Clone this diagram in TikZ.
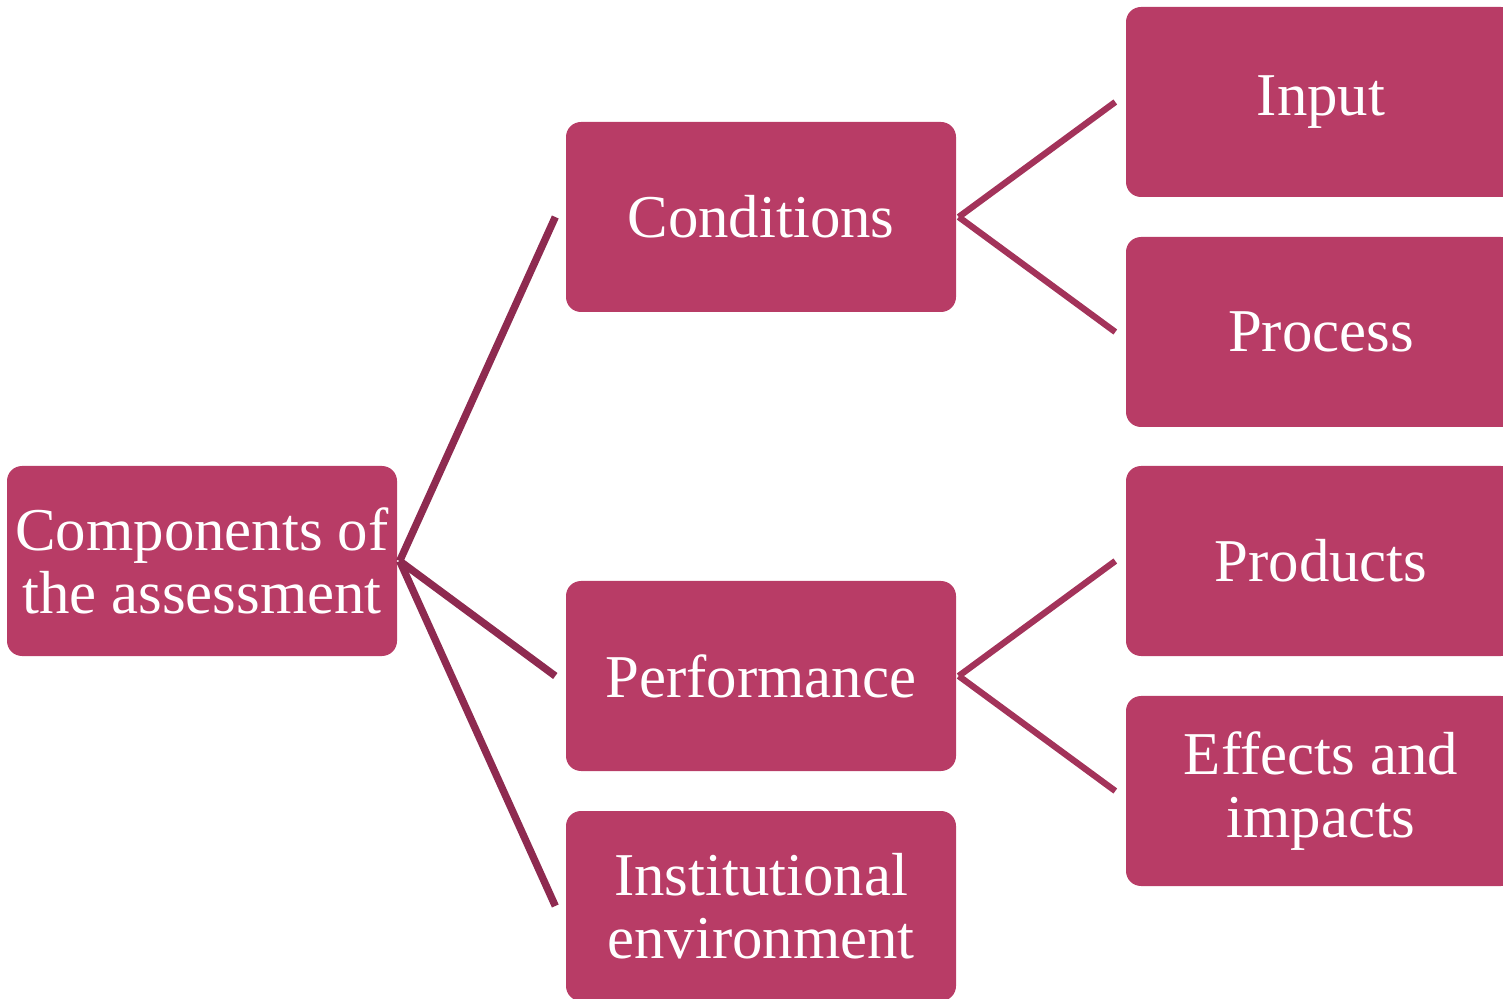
\documentclass[tikz,border=0pt]{standalone}
\usepackage{fontspec}
\setmainfont{Liberation Serif}
\usetikzlibrary{positioning}
\definecolor{boxfill}{HTML}{B83C66}
\definecolor{rootline}{HTML}{8E2A50}
\definecolor{subline}{HTML}{A3335A}
\tikzset{
    compbox/.style={rectangle, rounded corners=0.15cm, fill=boxfill, text=white,
        minimum width=3.9cm, minimum height=1.9cm, align=center, inner sep=0pt,
        font=\fontsize{17.3}{17.8}\selectfont},
    rootlink/.style={draw=rootline, line width=2.1pt},
    sublink/.style={draw=subline, line width=1.8pt}
}

\begin{document}
\begin{tikzpicture}
        \useasboundingbox (0,0) rectangle (15.03,9.98);
        \clip (0,0) rectangle (15.03,9.98);
        \node[compbox] (nRoot) at (2.02,4.37) {Components of\\the assessment};
        \node[compbox] (nCond) at (7.61,7.81) {Conditions};
        \node[compbox] (nPerf) at (7.61,3.22) {Performance};
        \node[compbox] (nInst) at (7.61,0.92) {Institutional\\environment};
        \node[compbox] (nInput) at (13.21,8.96) {Input};
        \node[compbox] (nProc) at (13.21,6.66) {Process};
        \node[compbox] (nProd) at (13.21,4.37) {Products};
        \node[compbox] (nEff) at (13.21,2.07) {Effects and\\impacts};

        \foreach \u in {nCond, nPerf, nInst}
        {
            \draw[rootlink] ([xshift=0.02cm]nRoot.east) -- ([xshift=-0.1cm]\u.west);
        };
        \foreach \v/\u in {nCond/nInput, nCond/nProc, nPerf/nProd, nPerf/nEff}
        {
            \draw[sublink] ([xshift=0.02cm]\v.east) -- ([xshift=-0.1cm]\u.west);
        };
    \end{tikzpicture}
\end{document}
